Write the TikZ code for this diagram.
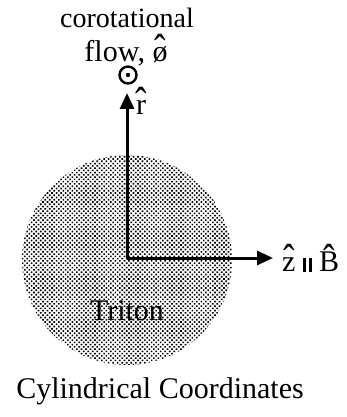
\documentclass[tikz,border=0pt]{standalone}
\usepackage{fontspec}
\setmainfont{Liberation Serif}
\usetikzlibrary{arrows.meta,patterns.meta}
\newcommand{\hatover}[1]{\ooalign{\hidewidth\raisebox{-0.08em}{\scalebox{1.15}[1.45]{ˆ}}\hidewidth\cr#1\cr}}
\newcommand{\parbars}{\rule{3pt}{14pt}\kern2.5pt\rule{3pt}{14pt}}
\begin{document}
\begin{tikzpicture}[x=1pt,y=-1pt,
  lbl/.style={font=\fontsize{30}{32}\selectfont, inner sep=0pt},
  axis/.style={line width=3pt, -{Triangle[length=16pt,width=14pt]}},
  body/.style={pattern={Dots[distance=3.2pt,radius=1.15pt,angle=45]}}]
\useasboundingbox (0,0) rectangle (347,417);
\path[body] (127,260) circle[radius=105pt];
\coordinate (o) at (127,258);
\coordinate (rt) at (127,93);
\coordinate (zt) at (273,258);
\draw[axis] (o) -- (rt);
\draw[axis] (o) -- (zt);
\node[lbl,font=\fontsize{28}{30}\selectfont] (coro) at (127,18) {corotational};
\node[lbl] (flow) at (126,50) {flow, \hatover{ø}};
\node[circle,draw,line width=2.4pt,minimum size=17pt,inner sep=0pt] (dot) at (128,75) {};
\fill (dot.center) circle[radius=2.2pt];
\node[lbl,anchor=west] (rlbl) at (136,101) {\hatover{r}};
\node[lbl,anchor=west] (zlbl) at (282,258) {\hatover{z} \parbars\ \hatover{B}};
\node[lbl] (triton) at (127,311) {Triton};
\node[lbl] (cyl) at (160,391) {Cylindrical Coordinates};
\end{tikzpicture}
\end{document}
